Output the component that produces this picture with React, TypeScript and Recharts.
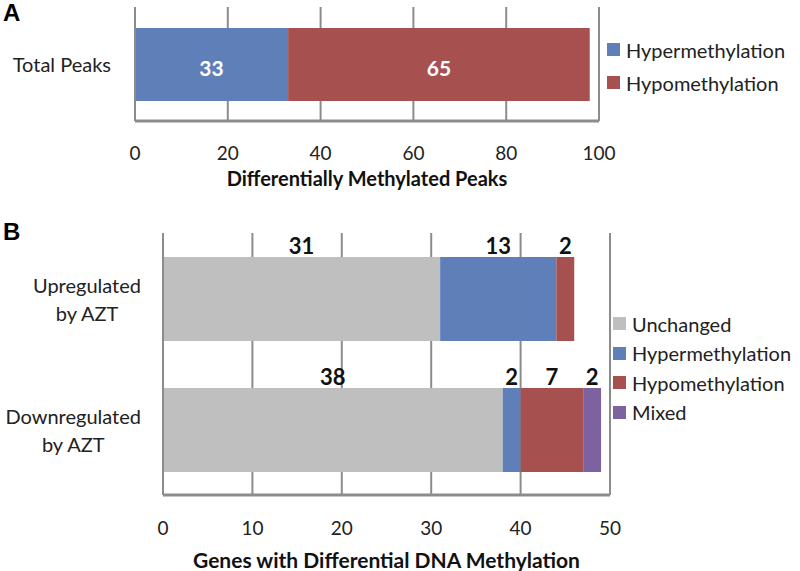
import React from 'react'
import { BarChart, Bar, XAxis, YAxis, CartesianGrid, LabelList } from 'recharts'

// Panel A: differentially methylated peaks
const peakCategories = ['Total Peaks']
const peakHyper = [33]
const peakHypo = [65]
const peakTicks = [0, 20, 40, 60, 80, 100]

// Panel B: genes with differential DNA methylation
const geneCategories = ['Upregulated\nby AZT', 'Downregulated\nby AZT']
const geneUnchanged = [31, 38]
const geneHyper = [13, 2]
const geneHypo = [2, 7]
const geneMixed = [0, 2]
const geneTicks = [0, 10, 20, 30, 40, 50]

const BLUE = '#5f7fb9'
const RED = '#a6504f'
const GRAY = '#bfbfbf'
const PURPLE = '#7c63a0'
const LINE = '#8c8c8c'
const FONT = 'Lato, "Open Sans", sans-serif'

const peakData = peakCategories.map((name, i) => ({
  name,
  hyper: peakHyper[i],
  hypo: peakHypo[i],
}))

const geneData = geneCategories.map((name, i) => ({
  name,
  unchanged: geneUnchanged[i],
  hyper: geneHyper[i],
  hypo: geneHypo[i],
  mixed: geneMixed[i],
}))

const peakLegend = [
  { name: 'Hypermethylation', color: BLUE },
  { name: 'Hypomethylation', color: RED },
]
const geneLegend = [
  { name: 'Unchanged', color: GRAY },
  { name: 'Hypermethylation', color: BLUE },
  { name: 'Hypomethylation', color: RED },
  { name: 'Mixed', color: PURPLE },
]

// text width, used to centre multi-line category labels as a block
let ctx: CanvasRenderingContext2D | null = null
function textWidth(s: string, size: number) {
  if (!ctx) ctx = document.createElement('canvas').getContext('2d')
  if (!ctx) return s.length * size * 0.5
  ctx.font = `${size}px ${FONT}`
  return ctx.measureText(s).width
}

const numTick = (dy: number) => (props: any) => (
  <text
    x={props.x}
    y={props.y + dy}
    textAnchor="middle"
    dominantBaseline="central"
    fontFamily={FONT}
    fontSize={19}
    fill="#222"
  >
    {props.payload.value}
  </text>
)

const axisTitle = (text: string, dy: number, size: number) => (props: any) => {
  const vb = props.viewBox
  return (
    <text
      x={vb.x + vb.width / 2}
      y={vb.y + dy}
      textAnchor="middle"
      dominantBaseline="central"
      fontFamily={FONT}
      fontWeight={700}
      fontSize={size}
      fill="#111"
    >
      {text}
    </text>
  )
}

const PeakCatTick = (props: any) => (
  <text
    x={props.x - 22}
    y={props.y}
    textAnchor="end"
    dominantBaseline="central"
    fontFamily={FONT}
    fontSize={20}
    fill="#222"
  >
    {props.payload.value}
  </text>
)

const GeneCatTick = (props: any) => {
  const size = 20
  const lines = String(props.payload.value).split('\n')
  const block = Math.max(...lines.map((l) => textWidth(l, size)))
  const cx = props.x - 20 - block / 2
  return (
    <text textAnchor="middle" fontFamily={FONT} fontSize={size} fill="#222">
      {lines.map((l, i) => (
        <tspan
          key={i}
          x={cx}
          y={props.y + (i - (lines.length - 1) / 2) * 28}
          dominantBaseline="central"
        >
          {l}
        </tspan>
      ))}
    </text>
  )
}

const whiteLabel = (props: any) => {
  const { x, y, width, height, value } = props
  if (!value) return null
  return (
    <text
      x={x + width / 2}
      y={y + height / 2 + 3}
      textAnchor="middle"
      dominantBaseline="central"
      fontFamily={FONT}
      fontWeight={700}
      fontSize={21}
      fill="#fff"
    >
      {value}
    </text>
  )
}

const topLabel = (props: any) => {
  const { x, y, width, value } = props
  if (!value) return null
  return (
    <text
      x={x + width / 2}
      y={y - 12}
      textAnchor="middle"
      dominantBaseline="central"
      fontFamily={FONT}
      fontWeight={700}
      fontSize={22}
      fill="#111"
    >
      {value}
    </text>
  )
}

function Legend({ items, left, top, gap }: { items: { name: string; color: string }[]; left: number; top: number; gap: number }) {
  return (
    <div style={{ position: 'absolute', left, top, fontFamily: FONT, fontSize: 20, color: '#222', whiteSpace: 'nowrap' }}>
      {items.map((it) => (
        <div key={it.name} style={{ display: 'flex', alignItems: 'center', height: gap }}>
          <span style={{ width: 13, height: 13, background: it.color, marginRight: 6, display: 'inline-block' }} />
          <span>{it.name}</span>
        </div>
      ))}
    </div>
  )
}

function PanelLetter({ text, top }: { text: string; top: number }) {
  return (
    <div
      style={{
        position: 'absolute',
        left: 3,
        top,
        fontFamily: '"Liberation Sans", Arial, sans-serif',
        fontWeight: 700,
        fontSize: 24,
        lineHeight: '24px',
        color: '#000',
      }}
    >
      {text}
    </div>
  )
}

export default function App() {
  return (
    <div style={{ position: 'fixed', left: 0, top: 0, width: 800, height: 571, background: '#fff', overflow: 'hidden' }}>
      <PanelLetter text="A" top={1} />
      <PanelLetter text="B" top={220} />

      <div style={{ position: 'absolute', left: 0, top: 0 }}>
        <BarChart
          width={800}
          height={200}
          data={peakData}
          layout="vertical"
          margin={{ top: 7, right: 201, bottom: 0, left: 0 }}
        >
          <CartesianGrid horizontal={false} stroke={LINE} strokeWidth={2} />
          <XAxis
            type="number"
            domain={[0, 100]}
            ticks={peakTicks}
            interval={0}
            height={79}
            tickLine={false}
            tickSize={0}
            axisLine={{ stroke: LINE, strokeWidth: 3 }}
            tick={numTick(29)}
            label={{ content: axisTitle('Differentially Methylated Peaks', 57, 20) }}
          />
          <YAxis
            type="category"
            dataKey="name"
            width={135}
            tickLine={false}
            tickSize={0}
            axisLine={{ stroke: LINE, strokeWidth: 2 }}
            tick={PeakCatTick}
          />
          <Bar dataKey="hyper" stackId="a" fill={BLUE} barSize={73} isAnimationActive={false}>
            <LabelList dataKey="hyper" content={whiteLabel} />
          </Bar>
          <Bar dataKey="hypo" stackId="a" fill={RED} barSize={73} isAnimationActive={false}>
            <LabelList dataKey="hypo" content={whiteLabel} />
          </Bar>
        </BarChart>
      </div>
      <Legend items={peakLegend} left={607} top={33} gap={33} />

      <div style={{ position: 'absolute', left: 0, top: 180 }}>
        <BarChart
          width={800}
          height={391}
          data={geneData}
          layout="vertical"
          margin={{ top: 53, right: 190, bottom: 0, left: 0 }}
        >
          <CartesianGrid horizontal={false} stroke={LINE} strokeWidth={2} />
          <XAxis
            type="number"
            domain={[0, 50]}
            ticks={geneTicks}
            interval={0}
            height={76}
            tickLine={false}
            tickSize={0}
            axisLine={{ stroke: LINE, strokeWidth: 3 }}
            tick={numTick(30)}
            label={{ content: axisTitle('Genes with Differential DNA Methylation', 64, 21) }}
          />
          <YAxis
            type="category"
            dataKey="name"
            width={163}
            tickLine={false}
            tickSize={0}
            axisLine={{ stroke: LINE, strokeWidth: 2 }}
            tick={GeneCatTick}
          />
          <Bar dataKey="unchanged" stackId="b" fill={GRAY} barSize={84} isAnimationActive={false}>
            <LabelList dataKey="unchanged" content={topLabel} />
          </Bar>
          <Bar dataKey="hyper" stackId="b" fill={BLUE} barSize={84} isAnimationActive={false}>
            <LabelList dataKey="hyper" content={topLabel} />
          </Bar>
          <Bar dataKey="hypo" stackId="b" fill={RED} barSize={84} isAnimationActive={false}>
            <LabelList dataKey="hypo" content={topLabel} />
          </Bar>
          <Bar dataKey="mixed" stackId="b" fill={PURPLE} barSize={84} isAnimationActive={false}>
            <LabelList dataKey="mixed" content={topLabel} />
          </Bar>
        </BarChart>
      </div>
      <Legend items={geneLegend} left={613} top={309} gap={29.5} />
    </div>
  )
}
